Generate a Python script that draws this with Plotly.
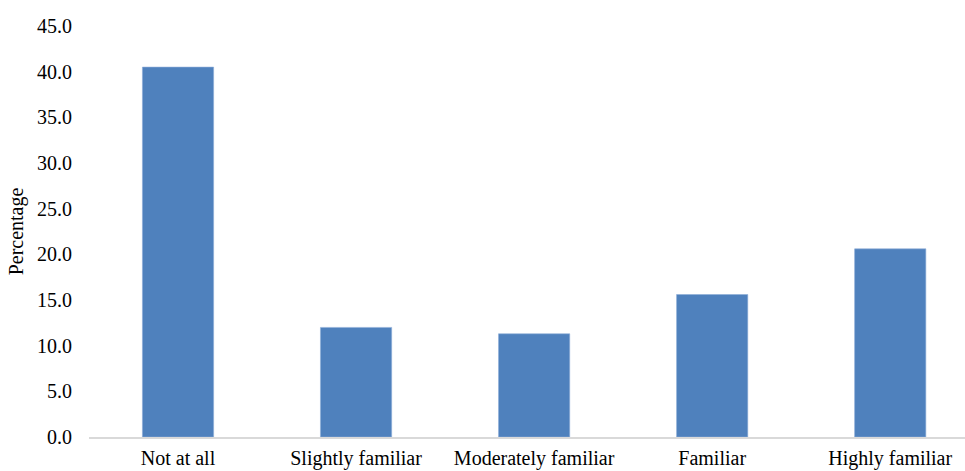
import plotly.graph_objects as go

# Familiarity levels and share of respondents (%)
categories = ["Not at all", "Slightly familiar", "Moderately familiar", "Familiar", "Highly familiar"]
percentages = [40.5, 12.0, 11.3, 15.6, 20.6]
y_ticks = [0, 5, 10, 15, 20, 25, 30, 35, 40, 45]

font_family = "'Times New Roman', 'Liberation Serif', 'DejaVu Serif', serif"
font_size = 20

fig = go.Figure(
    go.Bar(
        x=categories,
        y=percentages,
        marker=dict(color="#4F81BD", line=dict(color="#8DADD8", width=0.6)),
        hoverinfo="x+y",
    )
)

fig.update_layout(
    width=965,
    height=471,
    margin=dict(l=89, r=0, t=26, b=34),
    paper_bgcolor="white",
    plot_bgcolor="white",
    bargap=0.6,
    showlegend=False,
    font=dict(family=font_family, size=font_size, color="#000000"),
)

fig.update_xaxes(
    type="category",
    range=[-0.5, 4.42],
    showgrid=False,
    showline=True,
    linecolor="#D9D9D9",
    linewidth=2,
    ticks="outside",
    ticklen=2,
    tickcolor="rgba(0,0,0,0)",
    tickfont=dict(family=font_family, size=font_size, color="#000000"),
)

fig.update_yaxes(
    range=[0, 45],
    tickvals=y_ticks,
    tickformat=".1f",
    showgrid=False,
    zeroline=False,
    showline=False,
    ticks="",
    ticklabelstandoff=16,
    tickfont=dict(family=font_family, size=font_size, color="#000000"),
    title=dict(text="Percentage", standoff=8, font=dict(family=font_family, size=font_size, color="#000000")),
)

fig.write_html("out.html")
